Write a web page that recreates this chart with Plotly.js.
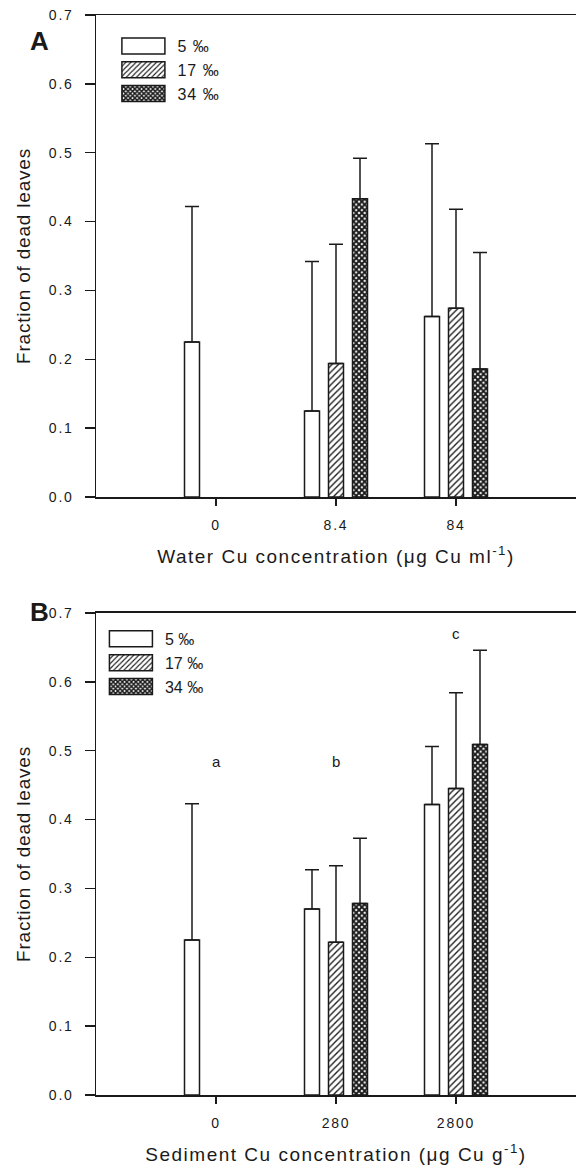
<!DOCTYPE html>
<html>
<head>
<meta charset="utf-8">
<script src="https://cdn.plot.ly/plotly-3.0.1.min.js"></script>
<style>
html,body{margin:0;padding:0;background:#fff;}
#chart{width:576px;height:1172px;}
#chart .xtick text, #chart .x2tick text, #chart .ytick text, #chart .y2tick text {letter-spacing: 1.8px;}
#chart .xtitle, #chart .x2title {letter-spacing: 1.5px;}
#chart .ytitle, #chart .y2title {letter-spacing: 0.8px;}
#chart .legendtext {letter-spacing: 1px;}
</style>
</head>
<body>
<div id="chart"></div>
<script>
// ---- data ----
const categoriesA = ['0', '8.4', '84'];
const categoriesB = ['0', '280', '2800'];
const salinity = ['5 \u2030', '17 \u2030', '34 \u2030'];

const meanA_5  = [0.225, 0.125, 0.262];
const meanA_17 = [null, 0.194, 0.274];
const meanA_34 = [null, 0.433, 0.186];
const errA_5   = [0.197, 0.217, 0.251];
const errA_17  = [null, 0.173, 0.144];
const errA_34  = [null, 0.059, 0.169];

const meanB_5  = [0.225, 0.270, 0.422];
const meanB_17 = [null, 0.222, 0.445];
const meanB_34 = [null, 0.278, 0.509];
const errB_5   = [0.198, 0.057, 0.084];
const errB_17  = [null, 0.111, 0.139];
const errB_34  = [null, 0.095, 0.137];

const lettersB  = ['a', 'b', 'c'];
const lettersBy = [0.485, 0.485, 0.67];

const yTicks = [0, 0.1, 0.2, 0.3, 0.4, 0.5, 0.6, 0.7];
const yTickText = ['0.0', '0.1', '0.2', '0.3', '0.4', '0.5', '0.6', '0.7'];

// ---- styles ----
const INK = '#1a1a1a';
const FONT = 'Liberation Sans, Arial, sans-serif';
const patterns = [
  {shape: '', fillmode: 'overlay'},
  {shape: '/', fgcolor: INK, bgcolor: '#fff', size: 4.5, solidity: 0.3, fillmode: 'replace'},
  {shape: 'x', fgcolor: INK, bgcolor: '#fff', size: 4, solidity: 0.72, fillmode: 'replace'}
];

function barTrace(cats, y, err, i, xa, ya, leg) {
  return {
    type: 'bar', x: cats, y: y, name: salinity[i],
    xaxis: xa, yaxis: ya, legend: leg,
    marker: {color: '#fff', line: {color: INK, width: 1.5}, pattern: patterns[i]},
    error_y: {type: 'data', array: err, arrayminus: err.map(() => 0), symmetric: false,
              color: INK, thickness: 1.5, width: 7},
    hoverinfo: 'skip'
  };
}

const data = [
  barTrace(categoriesA, meanA_5, errA_5, 0, 'x', 'y', 'legend'),
  barTrace(categoriesA, meanA_17, errA_17, 1, 'x', 'y', 'legend'),
  barTrace(categoriesA, meanA_34, errA_34, 2, 'x', 'y', 'legend'),
  barTrace(categoriesB, meanB_5, errB_5, 0, 'x2', 'y2', 'legend2'),
  barTrace(categoriesB, meanB_17, errB_17, 1, 'x2', 'y2', 'legend2'),
  barTrace(categoriesB, meanB_34, errB_34, 2, 'x2', 'y2', 'legend2')
];

function xAxis(title, anchor) {
  return {
    anchor: anchor, type: 'category', range: [-1, 3], fixedrange: true,
    showline: true, linecolor: INK, linewidth: 1.5, mirror: true,
    ticks: 'outside', ticklen: 7, tickwidth: 1.5, tickcolor: INK,
    ticklabelstandoff: 8,
    showgrid: false, zeroline: false,
    tickfont: {family: FONT, size: 14, color: INK},
    title: {text: title, font: {family: FONT, size: 19, color: INK}, standoff: 17}
  };
}
function yAxis(domain, anchor) {
  return {
    anchor: anchor, domain: domain, range: [0, 0.7], fixedrange: true,
    tickvals: yTicks, ticktext: yTickText,
    showline: true, linecolor: INK, linewidth: 1.5,
    ticks: 'outside', ticklen: 10, tickwidth: 1.5, tickcolor: INK,
    ticklabelstandoff: 8,
    showgrid: false, zeroline: false,
    tickfont: {family: FONT, size: 14, color: INK},
    title: {text: '\u00a0\u00a0\u00a0\u00a0\u00a0Fraction of dead leaves',
            font: {family: FONT, size: 19, color: INK}, standoff: 18}
  };
}

const annotations = [
  {text: '<b>A</b>', xref: 'paper', yref: 'paper', x: -0.142, y: 0.9917, showarrow: false,
   font: {family: FONT, size: 26, color: INK}},
  {text: '<b>B</b>', xref: 'paper', yref: 'paper', x: -0.142, y: 0.4472, showarrow: false,
   font: {family: FONT, size: 26, color: INK}}
];
lettersB.forEach((t, i) => annotations.push({
  text: t, xref: 'x2', yref: 'y2', x: i, y: lettersBy[i], showarrow: false,
  font: {family: FONT, size: 15, color: INK}
}));

const legendBase = {
  bgcolor: 'rgba(0,0,0,0)', borderwidth: 0, xanchor: 'left', yanchor: 'top',
  font: {family: FONT, size: 16, color: INK}, itemwidth: 57, traceorder: 'normal'
};

const layout = {
  width: 576, height: 1172,
  margin: {l: 96, r: 0, t: 15, b: 77},
  paper_bgcolor: '#fff', plot_bgcolor: '#fff',
  barmode: 'group', bargap: 0.4, bargroupgap: 0.375,
  font: {family: FONT, color: INK},
  xaxis: xAxis('Water Cu concentration (\u03bcg Cu ml<sup>-1</sup>)', 'y'),
  yaxis: yAxis([0.5537, 1], 'x'),
  xaxis2: xAxis('Sediment Cu concentration (\u03bcg Cu g<sup>-1</sup>)', 'y2'),
  yaxis2: yAxis([0, 0.4463], 'x2'),
  legend: Object.assign({x: 0.03, y: 0.987}, legendBase),
  legend2: Object.assign({x: 0.004, y: 0.438}, legendBase),
  annotations: annotations,
  showlegend: true
};

Plotly.newPlot('chart', data, layout, {staticPlot: true, displayModeBar: false}).then(function (gd) {
  // widen the legend swatches to match the reference key boxes
  gd.querySelectorAll('.legendpoints path').forEach(function (p) {
    p.setAttribute('d', 'M-22,-8H21V8H-22Z');
  });
});
</script>
</body>
</html>
